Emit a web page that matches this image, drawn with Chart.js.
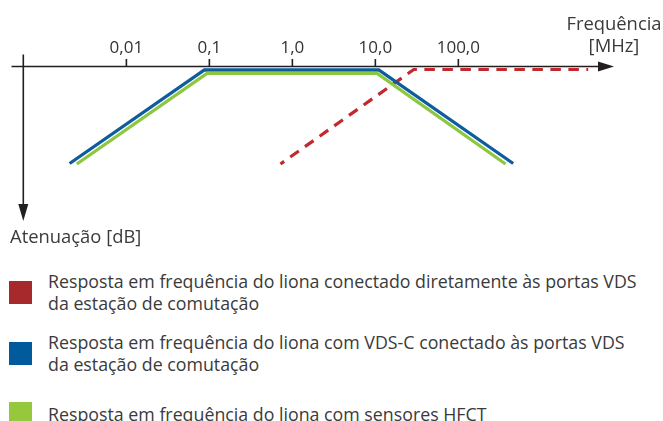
<!DOCTYPE html>
<html lang="pt">
<head>
<meta charset="utf-8">
<script src="https://cdn.jsdelivr.net/npm/chart.js@4"></script>
<style>
  body { margin: 0; background: #fff; font-family: "Open Sans", sans-serif; color: #3a3a3a; }
  #wrap { position: relative; width: 663px; height: 421px; overflow: hidden; }
  #chartBox { position: absolute; left: 0; top: 0; width: 663px; height: 250px; }
  .leg { position: absolute; left: 9px; display: flex; align-items: center; }
  .leg .sq { width: 23px; height: 23px; flex: none; }
  .leg .txt { margin-left: 16px; font-size: 17.8px; line-height: 22px; white-space: nowrap; }
</style>
</head>
<body>
<div id="wrap">
  <div id="chartBox"><canvas id="respChart"></canvas></div>
  <div id="legend"></div>
</div>
<script>
// frequency in MHz (log axis), attenuation in dB (grows downwards)
const redFreq = [0.719, 29.0, 3670];
const redAtt = [39, 1.2, 1.2];
const blueFreq = [0.00207, 0.0871, 11.0, 458];
const blueAtt = [38.8, 1.4, 1.4, 38.8];
const greenFreq = [0.00253, 0.0946, 10.4, 370];
const greenAtt = [39, 2.7, 2.7, 39];

const tickValues = [0.01, 0.1, 1, 10, 100];
const tickLabels = ['0,01', '0,1', '1,0', '10,0', '100,0'];

const legendLabels = [
    ['Resposta em frequência do liona conectado diretamente às portas VDS', 'da estação de comutação'],
    ['Resposta em frequência do liona com VDS-C conectado às portas VDS', 'da estação de comutação'],
    ['Resposta em frequência do liona com sensores HFCT']
];
const legendColors = ['#a7292b', '#005a9c', '#95c83d'];
const legendTops = [270, 331, 402];

function pts(xs, ys) {
    return xs.map((x, i) => ({ x: x, y: ys[i] }));
}

function buildLegend() {
    const box = document.getElementById('legend');
    legendLabels.forEach((lines, i) => {
        const row = document.createElement('div');
        row.className = 'leg';
        row.style.top = legendTops[i] + 'px';
        row.innerHTML = `<div class="sq" style="background:${legendColors[i]}"></div>` +
            `<div class="txt">${lines.join('<br>')}</div>`;
        box.appendChild(row);
    });
}

const axesPlugin = {
    id: 'arrowAxes',
    beforeDatasetsDraw: (chart) => {
        const { ctx, scales: { x, y } } = chart;
        const y0 = y.getPixelForValue(0);
        const x0 = 23.3;
        ctx.save();
        ctx.strokeStyle = '#231f20';
        ctx.fillStyle = '#231f20';
        ctx.lineWidth = 1.6;

        // horizontal axis with arrow
        ctx.beginPath();
        ctx.moveTo(11.5, y0);
        ctx.lineTo(600, y0);
        ctx.stroke();
        ctx.beginPath();
        ctx.moveTo(614, y0);
        ctx.lineTo(598, y0 - 5);
        ctx.lineTo(598, y0 + 5);
        ctx.closePath();
        ctx.fill();

        // vertical axis with arrow
        ctx.beginPath();
        ctx.moveTo(x0, 54.5);
        ctx.lineTo(x0, 206);
        ctx.stroke();
        ctx.beginPath();
        ctx.moveTo(x0, 221);
        ctx.lineTo(x0 - 5, 204);
        ctx.lineTo(x0 + 5, 204);
        ctx.closePath();
        ctx.fill();

        // ticks and labels
        ctx.font = '17px "Open Sans"';
        ctx.textAlign = 'center';
        ctx.textBaseline = 'alphabetic';
        tickValues.forEach((v, i) => {
            const px = x.getPixelForValue(v);
            ctx.beginPath();
            ctx.moveTo(px, y0 - 7.5);
            ctx.lineTo(px, y0);
            ctx.stroke();
            ctx.fillStyle = '#333';
            ctx.fillText(tickLabels[i], px, 52.5);
        });

        ctx.font = '18.4px "Open Sans"';
        ctx.fillStyle = '#3a3a3a';
        ctx.fillText('Frequência', 614, 30);
        ctx.fillText('[MHz]', 614, 52);
        ctx.textAlign = 'left';
        ctx.fillText('Atenuação [dB]', 10, 243);
        ctx.restore();
    }
};

const ctx = document.getElementById('respChart').getContext('2d');
new Chart(ctx, {
    type: 'scatter',
    data: {
        datasets: [{
                label: 'HFCT',
                data: pts(greenFreq, greenAtt),
                showLine: true,
                borderColor: '#8dc63f',
                borderWidth: 3.3,
                pointRadius: 0,
                borderCapStyle: 'butt'
            },
            {
                label: 'VDS-C',
                data: pts(blueFreq, blueAtt),
                showLine: true,
                borderColor: '#0d5c9e',
                borderWidth: 3.3,
                pointRadius: 0,
                borderCapStyle: 'butt'
            },
            {
                label: 'VDS',
                data: pts(redFreq, redAtt),
                showLine: true,
                borderColor: '#c3282e',
                borderWidth: 3.2,
                borderDash: [10.5, 7.5],
                borderDashOffset: 6,
                pointRadius: 0,
                borderCapStyle: 'butt'
            }
        ]
    },
    options: {
        responsive: true,
        maintainAspectRatio: false,
        animation: false,
        layout: { padding: 0 },
        plugins: {
            legend: { display: false },
            tooltip: { enabled: false }
        },
        scales: {
            x: { type: 'logarithmic', min: 3.177e-4, max: 29240, display: false },
            y: { type: 'linear', min: -26.6, max: 73.4, reverse: true, display: false }
        }
    },
    plugins: [axesPlugin]
});

buildLegend();
</script>
</body>
</html>
